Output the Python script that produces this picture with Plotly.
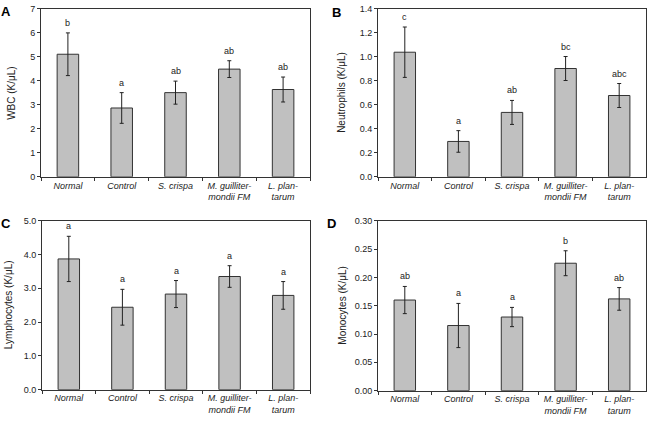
import plotly.graph_objects as go

categories = ["<i>Normal</i>", "<i>Control</i>", "<i>S. crispa</i>",
              "<i>M. guilliter-</i><br><i>mondii FM</i>", "<i>L. plan-</i><br><i>tarum</i>"]

wbc_mean = [5.11, 2.87, 3.51, 4.49, 3.64]
wbc_err = [0.89, 0.64, 0.48, 0.35, 0.52]
wbc_letters = ["b", "a", "ab", "ab", "ab"]

neu_mean = [1.039, 0.295, 0.537, 0.903, 0.678]
neu_err = [0.21, 0.09, 0.10, 0.10, 0.10]
neu_letters = ["c", "a", "ab", "bc", "abc"]

lym_mean = [3.87, 2.44, 2.83, 3.35, 2.79]
lym_err = [0.67, 0.53, 0.40, 0.32, 0.41]
lym_letters = ["a", "a", "a", "a", "a"]

mon_mean = [0.160, 0.115, 0.130, 0.225, 0.162]
mon_err = [0.024, 0.039, 0.017, 0.022, 0.020]
mon_letters = ["ab", "a", "a", "b", "ab"]

panels = [
    dict(mean=wbc_mean, err=wbc_err, letters=wbc_letters, title="WBC (K/μL)",
         rng=[0, 7], dtick=1, fmt="d", label="A"),
    dict(mean=neu_mean, err=neu_err, letters=neu_letters, title="Neutrophils (K/μL)",
         rng=[0, 1.4], dtick=0.2, fmt=".1f", label="B"),
    dict(mean=lym_mean, err=lym_err, letters=lym_letters, title="Lymphocytes (K/μL)",
         rng=[0, 5], dtick=1, fmt=".1f", label="C"),
    dict(mean=mon_mean, err=mon_err, letters=mon_letters, title="Monocytes (K/μL)",
         rng=[0, 0.30], dtick=0.05, fmt=".2f", label="D"),
]

W, H = 648, 422
# pixel boxes: left, right, top, bottom
boxes = [(41, 310, 4, 176), (378, 646, 4, 176), (42, 310, 221, 394), (378, 646, 221, 395)]
title_x = [12, 342, 8, 343]
letter_pos = [(6, 7), (336, 8), (6, 224), (331, 224)]

FONT = "Liberation Sans, Arial, sans-serif"
fig = go.Figure()
layout = dict(width=W, height=H, margin=dict(l=0, r=0, t=0, b=0),
              paper_bgcolor="white", plot_bgcolor="white", showlegend=False,
              font=dict(family=FONT, size=9, color="#222"))
annotations = []

for i, p in enumerate(panels):
    n = i + 1
    xa = "x" if n == 1 else f"x{n}"
    ya = "y" if n == 1 else f"y{n}"
    l, r, t, b = boxes[i]
    fig.add_trace(go.Bar(
        x=categories, y=p["mean"], xaxis=xa, yaxis=ya, width=0.4,
        marker=dict(color="#c0c0c0", line=dict(color="#333333", width=1)),
        error_y=dict(type="data", array=p["err"], visible=True,
                     color="#222222", thickness=1, width=2),
    ))
    for c, m, e, let in zip(categories, p["mean"], p["err"], p["letters"]):
        annotations.append(dict(x=c, y=m + e, xref=xa, yref=ya, text=let,
                                showarrow=False, yshift=10,
                                font=dict(size=9, family=FONT, color="#222")))
    axkey = "xaxis" if n == 1 else f"xaxis{n}"
    aykey = "yaxis" if n == 1 else f"yaxis{n}"
    layout[axkey] = dict(domain=[l / W, r / W], anchor=ya, type="category",
                         showline=True, linecolor="#333", linewidth=1, mirror=True,
                         ticks="outside", tickson="boundaries", ticklen=3,
                         tickcolor="#333", showgrid=False,
                         tickfont=dict(size=9, family=FONT, color="#222"),
                         range=[-0.5, 4.5])
    layout[aykey] = dict(domain=[1 - b / H, 1 - t / H], anchor=xa,
                         range=p["rng"], dtick=p["dtick"], tickformat=p["fmt"],
                         showline=True, linecolor="#333", linewidth=1, mirror=True,
                         ticks="outside", ticklen=3, tickcolor="#333",
                         showgrid=False, zeroline=False,
                         tickfont=dict(size=9, family=FONT, color="#222"))
    annotations.append(dict(x=title_x[i] / W, y=1 - (t + b) / 2 / H, xref="paper", yref="paper",
                            text=p["title"], textangle=-90, showarrow=False,
                            xanchor="center", yanchor="middle",
                            font=dict(size=10, family=FONT, color="#222")))
    lx, ly = letter_pos[i]
    annotations.append(dict(x=lx / W, y=1 - ly / H, xref="paper", yref="paper",
                            text="<b>" + p["label"] + "</b>", showarrow=False,
                            xanchor="center", yanchor="middle",
                            font=dict(size=13, family=FONT, color="#000")))

layout["annotations"] = annotations
fig.update_layout(**layout)
fig.write_html("out.html")
